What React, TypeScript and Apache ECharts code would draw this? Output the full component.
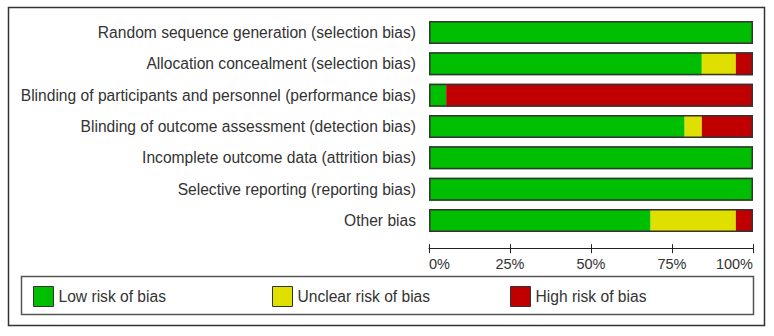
import React, { useEffect, useRef } from "react";
import * as echarts from "echarts";

// Risk-of-bias domains, top to bottom
const domains = [
  "Random sequence generation (selection bias)",
  "Allocation concealment (selection bias)",
  "Blinding of participants and personnel (performance bias)",
  "Blinding of outcome assessment (detection bias)",
  "Incomplete outcome data (attrition bias)",
  "Selective reporting (reporting bias)",
  "Other bias",
];

// Percentage of studies per judgement
const lowRisk = [100, 84.2, 5.3, 78.9, 100, 100, 68.4];
const unclearRisk = [0, 10.5, 0, 5.3, 0, 0, 26.3];
const highRisk = [0, 5.3, 94.7, 15.8, 0, 0, 5.3];
const fullBar = [100, 100, 100, 100, 100, 100, 100];

const tickLabels = ["0%", "25%", "50%", "75%", "100%"];

const legendNames = ["Low risk of bias", "Unclear risk of bias", "High risk of bias"];
const colors = ["#00bf00", "#e0e000", "#c00000"];

export default function App() {
  const ref = useRef<HTMLDivElement>(null);

  useEffect(() => {
    if (!ref.current) return;
    const chart = echarts.init(ref.current, null, { renderer: "svg" });
    const font = "'Liberation Sans', Arial, sans-serif";
    const textColor = "#333";

    const segment = (name: string, data: number[], color: string) => ({
      name,
      type: "bar",
      stack: "total",
      data,
      barWidth: 23,
      itemStyle: { color, borderWidth: 0 },
      silent: true,
    });

    const legendSlots = [33, 272, 510];

    chart.setOption({
      animation: false,
      textStyle: { fontFamily: font },
      grid: { left: 429, right: 21, top: 16.8, height: 219.4, containLabel: false },
      xAxis: [
        {
          type: "value",
          min: 0,
          max: 100,
          interval: 25,
          offset: 12,
          axisLine: { show: true, lineStyle: { color: "#222", width: 1 } },
          axisTick: { show: true, length: 5, lineStyle: { color: "#222" } },
          splitLine: { show: false },
          axisLabel: {
            margin: 8,
            fontSize: 14.5,
            color: textColor,
            fontFamily: font,
            alignMinLabel: "left",
            alignMaxLabel: "right",
            formatter: (v: number) => tickLabels[Math.round(v / 25)],
          },
        },
        {
          type: "value",
          min: 0,
          max: 100,
          interval: 25,
          position: "bottom",
          offset: 12,
          axisLine: { show: false },
          axisTick: { show: true, inside: true, length: 4, lineStyle: { color: "#222" } },
          splitLine: { show: false },
          axisLabel: { show: false },
        },
      ],
      yAxis: {
        type: "category",
        data: domains,
        inverse: true,
        axisLine: { show: false },
        axisTick: { show: false },
        axisLabel: { margin: 13, fontSize: 15.6, color: textColor, fontFamily: font },
      },
      legend: legendNames.map((name, i) => ({
        data: [name],
        left: legendSlots[i],
        top: 286,
        padding: 0,
        itemWidth: 20,
        itemHeight: 20,
        itemGap: 0,
        icon: "rect",
        selectedMode: false,
        itemStyle: { borderColor: "#333", borderWidth: 1 },
        textStyle: { fontSize: 15.6, color: textColor, fontFamily: font, padding: [0, 0, 0, 0] },
      })),
      graphic: [
        {
          type: "rect",
          shape: { x: 8.5, y: 7.5, width: 756, height: 318 },
          style: { fill: "none", stroke: "#333", lineWidth: 1.5 },
          silent: true,
        },
        {
          type: "rect",
          shape: { x: 21.5, y: 276.5, width: 732, height: 38 },
          style: { fill: "none", stroke: "#555", lineWidth: 1.5 },
          silent: true,
        },
      ],
      series: [
        segment(legendNames[0], lowRisk, colors[0]),
        segment(legendNames[1], unclearRisk, colors[1]),
        segment(legendNames[2], highRisk, colors[2]),
        {
          name: "outline",
          type: "bar",
          data: fullBar,
          barWidth: 23,
          barGap: "-100%",
          silent: true,
          z: 3,
          itemStyle: { color: "none", borderColor: "#333", borderWidth: 1.5 },
        },
      ],
    });

    return () => chart.dispose();
  }, []);

  return (
    <div
      ref={ref}
      style={{ position: "fixed", left: 0, top: 0, width: 774, height: 336, background: "#fff" }}
    />
  );
}
